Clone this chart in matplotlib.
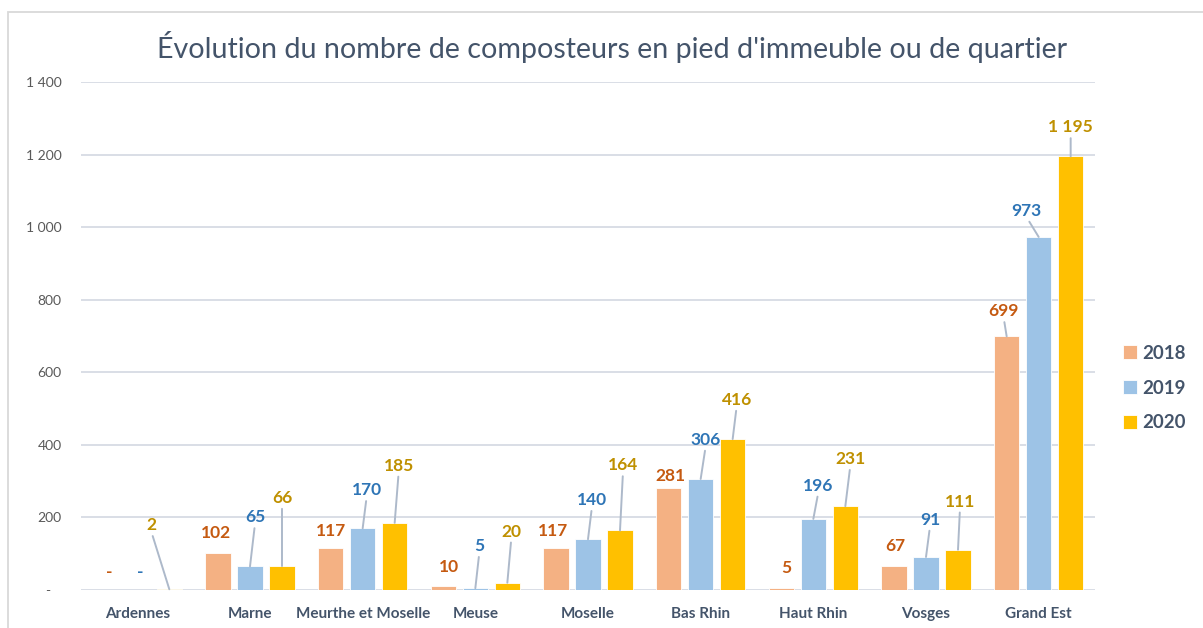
import matplotlib
matplotlib.use("Agg")
import matplotlib.pyplot as plt
from matplotlib.patches import Rectangle
import numpy as np

# ---- data ----
categories = ["Ardennes", "Marne", "Meurthe et Moselle", "Meuse", "Moselle",
              "Bas Rhin", "Haut Rhin", "Vosges", "Grand Est"]
years = ["2018", "2019", "2020"]
v2018 = [0, 102, 117, 10, 117, 281, 5, 67, 699]
v2019 = [0, 65, 170, 5, 140, 306, 196, 91, 973]
v2020 = [2, 66, 185, 20, 164, 416, 231, 111, 1195]
yticks = [0, 200, 400, 600, 800, 1000, 1200, 1400]

# ---- styles ----
bar_colors = ["#F4B183", "#9DC3E6", "#FFC000"]
label_colors = ["#C55A11", "#2E75B6", "#BF9000"]
text_col = "#44546A"
grid_col = "#D9DEE6"
leader_col = "#ADB9CA"

# label offsets in pixels (dx, dy up from bar top) and whether a leader line is drawn
off2018 = [(4, 18), (-2, 20), (0, 17), (6, 19), (-3, 17), (2, 12), (5, 20), (1, 20), (-3, 25)]
lead2018 = [False, False, False, False, False, False, False, False, True]
off2019 = [(3, 18), (5, 49), (4, 38), (4, 42), (4, 39), (5, 39), (5, 33), (4, 37), (-12, 26)]
lead2019 = [False, True, True, True, True, True, True, True, True]
off2020 = [(-18, 64), (0, 68), (4, 57), (4, 51), (3, 65), (4, 39), (5, 47), (2, 48), (0, 29)]
lead2020 = [True, True, True, True, True, True, True, True, True]

plt.rcParams['font.family'] = ['Lato', 'DejaVu Sans']

W, H = 1203, 628
fig = plt.figure(figsize=(W / 100, H / 100), dpi=100)
ax = fig.add_axes([81 / W, 1 - 590 / H, (1095 - 81) / W, (590 - 82) / H])

def fmt(v):
    if v == 0:
        return "-"
    return f"{v:,}".replace(",", " ")

x = np.arange(len(categories))
step = 0.284
width = 0.222
series = [v2018, v2019, v2020]
offsets = [off2018, off2019, off2020]
leads = [lead2018, lead2019, lead2020]

for j, vals in enumerate(series):
    xs = x + (j - 1) * step
    ax.bar(xs, vals, width=width, color=bar_colors[j], label=years[j], zorder=3,
           edgecolor="white", linewidth=0.6)
    for i, (xi, v) in enumerate(zip(xs, vals)):
        dx, dy = offsets[j][i]
        kw = {}
        if leads[j][i]:
            kw["arrowprops"] = dict(arrowstyle="-", color=leader_col, lw=1.4,
                                    shrinkA=0, shrinkB=0, relpos=(0.5, 0.1))
        ax.annotate(fmt(v), xy=(xi, v), xytext=(dx, dy), textcoords="offset pixels",
                    ha="center", va="center", fontsize=12.5, fontweight="bold",
                    color=label_colors[j], zorder=5, annotation_clip=False, **kw)

ax.set_xlim(-0.5, 8.5)
ax.set_ylim(0, 1400)
ax.set_yticks(yticks)
ax.set_yticklabels([fmt(t) if t else "-   " for t in yticks], color="#595959", fontsize=10)
ax.set_xticks(x)
ax.set_xticklabels(categories, fontsize=11, fontweight="bold", color=text_col)
ax.tick_params(axis="both", length=0)
ax.tick_params(axis="y", pad=14)
ax.tick_params(axis="x", pad=12)
ax.grid(axis="y", color=grid_col, linewidth=1.4, zorder=0)
for s in ax.spines.values():
    s.set_visible(False)
ax.set_axisbelow(True)

fig.text(612 / W, 1 - 47 / H,
         "Évolution du nombre de composteurs en pied d'immeuble ou de quartier",
         ha="center", va="center", fontsize=20.6, color=text_col)

leg = fig.legend(loc="center left", bbox_to_anchor=(1106 / W, 1 - 388 / H),
                 frameon=False, fontsize=13.5, handlelength=0.75, handleheight=0.75,
                 handletextpad=0.3, labelspacing=0.95)
for t in leg.get_texts():
    t.set_color(text_col)
    t.set_fontweight("bold")

# outer chart border
fig.patches.append(Rectangle((8 / W, -0.1), 1.2, 1 - 12 / H + 0.1,
                             transform=fig.transFigure, fill=False,
                             edgecolor="#D9D9D9", linewidth=1.3))

fig.savefig("out.png", dpi=100)
